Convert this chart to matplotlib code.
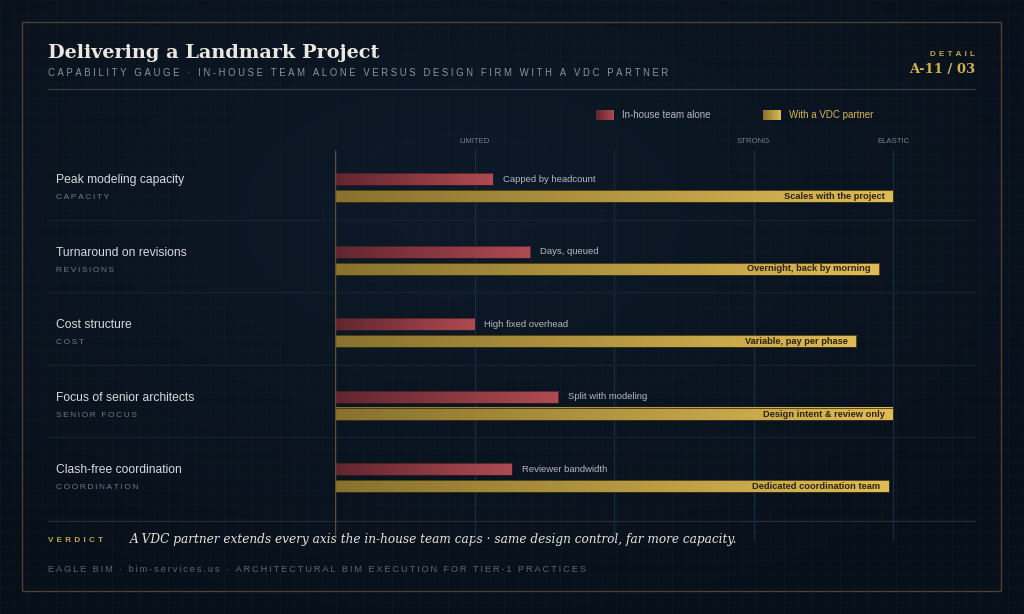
import numpy as np
import matplotlib
matplotlib.use("Agg")
import matplotlib.pyplot as plt
from matplotlib.colors import LinearSegmentedColormap
from matplotlib.patches import Rectangle

# ---------------- data ----------------
categories = ["Peak modeling capacity", "Turnaround on revisions", "Cost structure",
              "Focus of senior architects", "Clash-free coordination"]
sublabels = ["CAPACITY", "REVISIONS", "COST", "SENIOR FOCUS", "COORDINATION"]
inhouse = [28.3, 35, 25, 40, 31.7]
vdc = [100, 97.5, 93.4, 100, 99.2]
inhouse_notes = ["Capped by headcount", "Days, queued", "High fixed overhead",
                 "Split with modeling", "Reviewer bandwidth"]
vdc_notes = ["Scales with the project", "Overnight, back by morning", "Variable, pay per phase",
             "Design intent & review only", "Dedicated coordination team"]
tick_values = [25, 75, 100]
tick_labels = ["LIMITED", "STRONG", "ELASTIC"]
grid_values = [25, 50, 75, 100]
series_names = ["In-house team alone", "With a VDC partner"]

title = "Delivering a Landmark Project"
subtitle = "CAPABILITY GAUGE · IN-HOUSE TEAM ALONE VERSUS DESIGN FIRM WITH A VDC PARTNER"
verdict = "A VDC partner extends every axis the in-house team caps · same design control, far more capacity."
footer = "EAGLE BIM · bim-services.us · ARCHITECTURAL BIM EXECUTION FOR TIER-1 PRACTICES"

# ---------------- style ----------------
W, H = 1024, 614
SANS = ["Liberation Sans", "DejaVu Sans"]
GOLD = "#c9a646"
red_cmap = LinearSegmentedColormap.from_list("r", ["#62262f", "#ae4a52"])
gold_cmap = LinearSegmentedColormap.from_list("g", ["#88722e", "#dfbb55"])


def track(s, sep="\u2009"):
    return sep.join(list(s))


fig = plt.figure(figsize=(W / 100, H / 100), dpi=100)
renderer = fig.canvas.get_renderer()


def fit_text(t, target_px):
    # scale font size so that rendered width matches target width
    for _ in range(3):
        w = t.get_window_extent(renderer=renderer).width
        if w <= 0:
            break
        t.set_fontsize(t.get_fontsize() * target_px / w)
    return t


# background axes in pixel coordinates
bg = fig.add_axes([0, 0, 1, 1])
bg.set_xlim(0, W)
bg.set_ylim(H, 0)
bg.axis("off")
yy, xx = np.mgrid[0:H:2, 0:W:2]
d = np.sqrt(((xx - W * 0.45) / W) ** 2 + ((yy - H * 0.35) / H) ** 2)
d = np.clip(d / 0.75, 0, 1)
c0 = np.array([0x0e, 0x1a, 0x29]) / 255
c1 = np.array([0x07, 0x0f, 0x18]) / 255
img = c0[None, None, :] * (1 - d[..., None]) + c1[None, None, :] * d[..., None]
bg.imshow(img, extent=[0, W, H, 0], aspect="auto", zorder=0)
# blueprint grid
for gx in np.arange(0, W, 14):
    bg.axvline(gx, color="#1a2a3c", lw=0.5, alpha=0.2, zorder=1)
for gy in np.arange(0, H, 14):
    bg.axhline(gy, color="#1a2a3c", lw=0.5, alpha=0.2, zorder=1)

# frame
bg.add_patch(Rectangle((22, 22), 979, 569, fill=False, ec="#4a4531", lw=1.0, zorder=2))
# header rule and bottom separator
bg.plot([48, 975], [89, 89], color="#343b45", lw=0.9, zorder=2)
bg.plot([48, 975], [520.5, 520.5], color="#262c30", lw=0.9, zorder=2)

# header text
t = bg.text(48, 58, title, family="DejaVu Serif", weight="bold", fontsize=13.6,
            color="#ebe8e1", ha="left", va="baseline", zorder=5)
fit_text(t, 332)
t = bg.text(48, 73, track(subtitle, "\u2009\u200a"), family=SANS, fontsize=6.4,
            color="#8a94a2", ha="left", va="center", zorder=5)
fit_text(t, 623)
t = bg.text(975, 55, track("DETAIL", "\u2009\u2009"), family=SANS, fontsize=5.8,
            weight="bold", color=GOLD, ha="right", va="center", zorder=5)
fit_text(t, 44)
t = bg.text(975, 70, "A-11 / 03", family="DejaVu Serif", weight="bold", fontsize=10.0,
            color="#d6b24e", ha="right", va="center", zorder=5)
fit_text(t, 66)

# legend
grad = np.linspace(0, 1, 64)[None, :]
bg.imshow(grad, cmap=red_cmap, extent=[596, 614, 120, 110], aspect="auto", zorder=4)
bg.text(622, 115.5, series_names[0], family=SANS, fontsize=7, color="#b3b6bd",
        ha="left", va="center", zorder=5)
bg.imshow(grad, cmap=gold_cmap, extent=[763, 781, 120, 110], aspect="auto", zorder=4)
bg.text(789, 115.5, series_names[1], family=SANS, fontsize=7, color="#d7b550",
        ha="left", va="center", zorder=5)

# verdict and footer
t = bg.text(48, 540, track("VERDICT", "\u2009\u2009"), family=SANS, fontsize=6.0,
            weight="bold", color=GOLD, ha="left", va="center", zorder=5)
fit_text(t, 55)
t = bg.text(130, 539, verdict, family="DejaVu Serif", style="italic", fontsize=8.8,
            color="#e6e3dc", ha="left", va="center", zorder=5)
fit_text(t, 607)
t = bg.text(48, 569, track(footer, "\u2009"), family=SANS, fontsize=6.6, color="#5c6673",
            ha="left", va="center", zorder=5)
fit_text(t, 539)

# ---------------- main chart axes ----------------
PX_PER_UNIT = (893 - 335) / 100.0
ROW_PX = 72.6
TOP_PX, BOT_PX = 147, 545
ax = fig.add_axes([335 / W, 1 - BOT_PX / H, (975 - 335) / W, (BOT_PX - TOP_PX) / H])
ax.patch.set_alpha(0)
ax.axis("off")
XMAX = (975 - 335) / PX_PER_UNIT
YMAX = (BOT_PX - TOP_PX) / ROW_PX


def px2x(px):
    return (px - 335) / PX_PER_UNIT


def py2y(py):
    return (py - TOP_PX) / ROW_PX


# gridlines and baseline
ax.vlines(grid_values, py2y(150), py2y(540), color="#1a2b40", lw=0.9, zorder=1)
ax.vlines([0], py2y(150), py2y(536), color="#5a5236", lw=1.0, zorder=4)
for v, lab in zip(tick_values, tick_labels):
    ax.text(v, py2y(141.5), lab, family=SANS, fontsize=5.6, color="#76808e",
            ha="center", va="center", clip_on=False)

# row separators
for i in range(1, len(categories)):
    ax.hlines(i, px2x(48), XMAX, color="#15222f", lw=0.9, zorder=1, clip_on=False)

bh = 12 / ROW_PX
for i, cat in enumerate(categories):
    ax.text(px2x(56), i + (180 - TOP_PX) / ROW_PX, cat, family=SANS, fontsize=8.7,
            color="#d6dae0", ha="left", va="center", clip_on=False)
    ax.text(px2x(56), i + (197.5 - TOP_PX) / ROW_PX, track(sublabels[i], "\u2009"), family=SANS,
            fontsize=6.0, color="#6f7a8a", ha="left", va="center", clip_on=False)

    # in-house bar
    yc = i + (179 - TOP_PX) / ROW_PX
    v = inhouse[i]
    ax.imshow(grad, cmap=red_cmap, extent=[0, v, yc + bh / 2, yc - bh / 2],
              aspect="auto", zorder=3, interpolation="bilinear")
    ax.add_patch(Rectangle((0, yc - bh / 2), v, bh, fill=False, ec="#3a1a20", lw=0.5, zorder=3.5))
    ax.text(v + 10 / PX_PER_UNIT, yc, inhouse_notes[i], family=SANS, fontsize=6.8,
            color="#b4b8bf", ha="left", va="center", zorder=5)

    # vdc bar
    yc = i + (196 - TOP_PX) / ROW_PX
    v = vdc[i]
    ax.imshow(grad, cmap=gold_cmap, extent=[0, v, yc + bh / 2, yc - bh / 2],
              aspect="auto", zorder=3, interpolation="bilinear")
    ax.add_patch(Rectangle((0, yc - bh / 2), v, bh, fill=False, ec="#3e3414", lw=0.6, zorder=3.5))
    ax.text(v - 8 / PX_PER_UNIT, yc + 0.005, vdc_notes[i], family=SANS, fontsize=6.7,
            weight="bold", color="#2a2310", ha="right", va="center", zorder=5)

ax.set_xlim(0, XMAX)
ax.set_ylim(YMAX, 0)

fig.savefig("out.png", dpi=100)
